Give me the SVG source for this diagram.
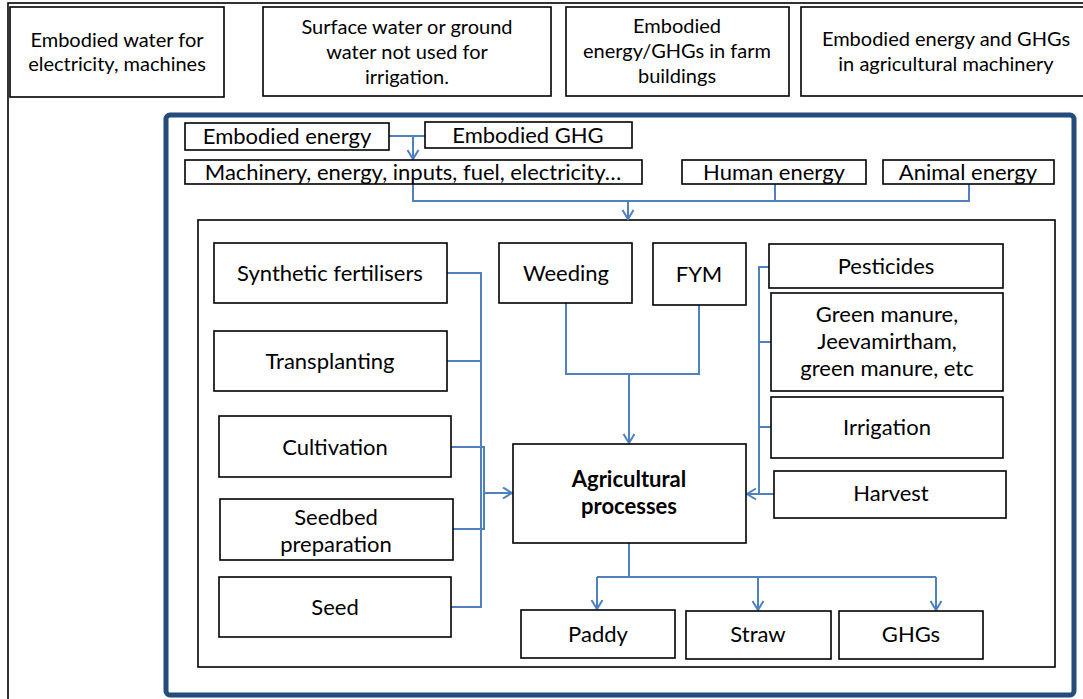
<svg xmlns="http://www.w3.org/2000/svg" width="1083" height="699" viewBox="0 0 1083 699">
<defs>
<style>
.box{fill:#fff;stroke:#000;stroke-width:1.6}
.t{font-family:Lato,"Open Sans","Liberation Sans",sans-serif;font-size:22px;fill:#000;text-anchor:middle}
.h{font-size:20px}
.tb{font-weight:bold}
.c{fill:none;stroke:#4F81BD;stroke-width:2}
</style>
<marker id="arr" markerUnits="userSpaceOnUse" markerWidth="14" markerHeight="14" refX="10" refY="6.5" orient="auto">
<path d="M1,1 L10,6.5 L1,12" fill="none" stroke="#4F81BD" stroke-width="2"/>
</marker>
</defs>
<rect width="1083" height="699" fill="#fff"/>
<rect x="8" y="3" width="1090" height="710" fill="none" stroke="#000" stroke-width="1.6"/>

<g id="top1"><rect class="box" x="10" y="7" width="214" height="90"/><text class="t h" x="117" y="47">Embodied water for</text><text class="t h" x="117" y="71">electricity, machines</text></g>
<g id="top2"><rect class="box" x="263" y="7" width="288" height="89"/><text class="t h" x="407" y="34">Surface water or ground</text><text class="t h" x="407" y="59">water not used for</text><text class="t h" x="407" y="84">irrigation.</text></g>
<g id="top3"><rect class="box" x="566" y="7" width="223" height="89"/><text class="t h" x="677" y="33">Embodied</text><text class="t h" x="677" y="58">energy/GHGs in farm</text><text class="t h" x="677" y="83">buildings</text></g>
<g id="top4"><rect class="box" x="801" y="7" width="290" height="89"/><text class="t h" x="946" y="46">Embodied energy and GHGs</text><text class="t h" x="946" y="71">in agricultural machinery</text></g>

<rect x="166" y="115" width="908" height="580" rx="4" fill="none" stroke="#244B7C" stroke-width="5"/>
<rect x="198" y="220" width="857" height="447" fill="none" stroke="#000" stroke-width="1.6"/>

<g id="connectors">
<path class="c" d="M389,136 H425"/>
<path class="c" d="M413,136 V159" marker-end="url(#arr)"/>
<path class="c" d="M413,184 V201 H969 V184 M775,184 V201"/>
<path class="c" d="M628,201 V219" marker-end="url(#arr)"/>
<path class="c" d="M447,273 H481 V607 H451 M447,361 H481 M451,447 H484 V529 H453"/>
<path class="c" d="M483,493 H512" marker-end="url(#arr)"/>
<path class="c" d="M566,303 V374 H699 V305"/>
<path class="c" d="M629,374 V443" marker-end="url(#arr)"/>
<path class="c" d="M769,267 H759 V494 M771,342 H759 M771,427 H759 M774,494 H759"/>
<path class="c" d="M759,494 H747" marker-end="url(#arr)"/>
<path class="c" d="M629,543 V577 M597,577 H936"/>
<path class="c" d="M597,577 V609" marker-end="url(#arr)"/>
<path class="c" d="M758,577 V610" marker-end="url(#arr)"/>
<path class="c" d="M936,577 V610" marker-end="url(#arr)"/>
</g>

<g id="embEnergy"><rect class="box" x="185" y="123" width="204" height="27"/><text class="t" x="287" y="144">Embodied energy</text></g>
<g id="embGHG"><rect class="box" x="425" y="122" width="207" height="26"/><text class="t" x="528" y="143">Embodied GHG</text></g>
<g id="machinery"><rect class="box" x="185" y="160" width="457" height="24"/><text class="t" x="413" y="180">Machinery, energy, inputs, fuel, electricity…</text></g>
<g id="human"><rect class="box" x="682" y="160" width="184" height="24"/><text class="t" x="774" y="180">Human energy</text></g>
<g id="animal"><rect class="box" x="883" y="160" width="171" height="24"/><text class="t" x="968" y="180">Animal energy</text></g>

<g id="synth"><rect class="box" x="214" y="243" width="233" height="60"/><text class="t" x="330" y="281">Synthetic fertilisers</text></g>
<g id="transplant"><rect class="box" x="214" y="331" width="233" height="60"/><text class="t" x="330" y="369">Transplanting</text></g>
<g id="cultivation"><rect class="box" x="219" y="416" width="232" height="61"/><text class="t" x="335" y="455">Cultivation</text></g>
<g id="seedbed"><rect class="box" x="220" y="499" width="233" height="61"/><text class="t" x="336" y="525">Seedbed</text><text class="t" x="336" y="552">preparation</text></g>
<g id="seed"><rect class="box" x="219" y="577" width="232" height="60"/><text class="t" x="335" y="615">Seed</text></g>

<g id="weeding"><rect class="box" x="499" y="243" width="133" height="60"/><text class="t" x="566" y="281">Weeding</text></g>
<g id="fym"><rect class="box" x="653" y="243" width="93" height="62"/><text class="t" x="699" y="282">FYM</text></g>

<g id="pesticides"><rect class="box" x="769" y="244" width="234" height="44"/><text class="t" x="886" y="274">Pesticides</text></g>
<g id="greenmanure"><rect class="box" x="771" y="293" width="232" height="98"/><text class="t" x="887" y="322">Green manure,</text><text class="t" x="887" y="349">Jeevamirtham,</text><text class="t" x="887" y="376">green manure, etc</text></g>
<g id="irrigation"><rect class="box" x="771" y="397" width="232" height="61"/><text class="t" x="887" y="435">Irrigation</text></g>
<g id="harvest"><rect class="box" x="774" y="471" width="232" height="47"/><text class="t" x="891" y="501">Harvest</text></g>

<g id="agri"><rect class="box" x="513" y="444" width="233" height="99"/><text class="t tb" x="629" y="487">Agricultural</text><text class="t tb" x="629" y="514">processes</text></g>

<g id="paddy"><rect class="box" x="521" y="610" width="154" height="48"/><text class="t" x="598" y="642">Paddy</text></g>
<g id="straw"><rect class="box" x="686" y="611" width="145" height="48"/><text class="t" x="758" y="642">Straw</text></g>
<g id="ghgs"><rect class="box" x="839" y="611" width="144" height="48"/><text class="t" x="911" y="642">GHGs</text></g>
</svg>
